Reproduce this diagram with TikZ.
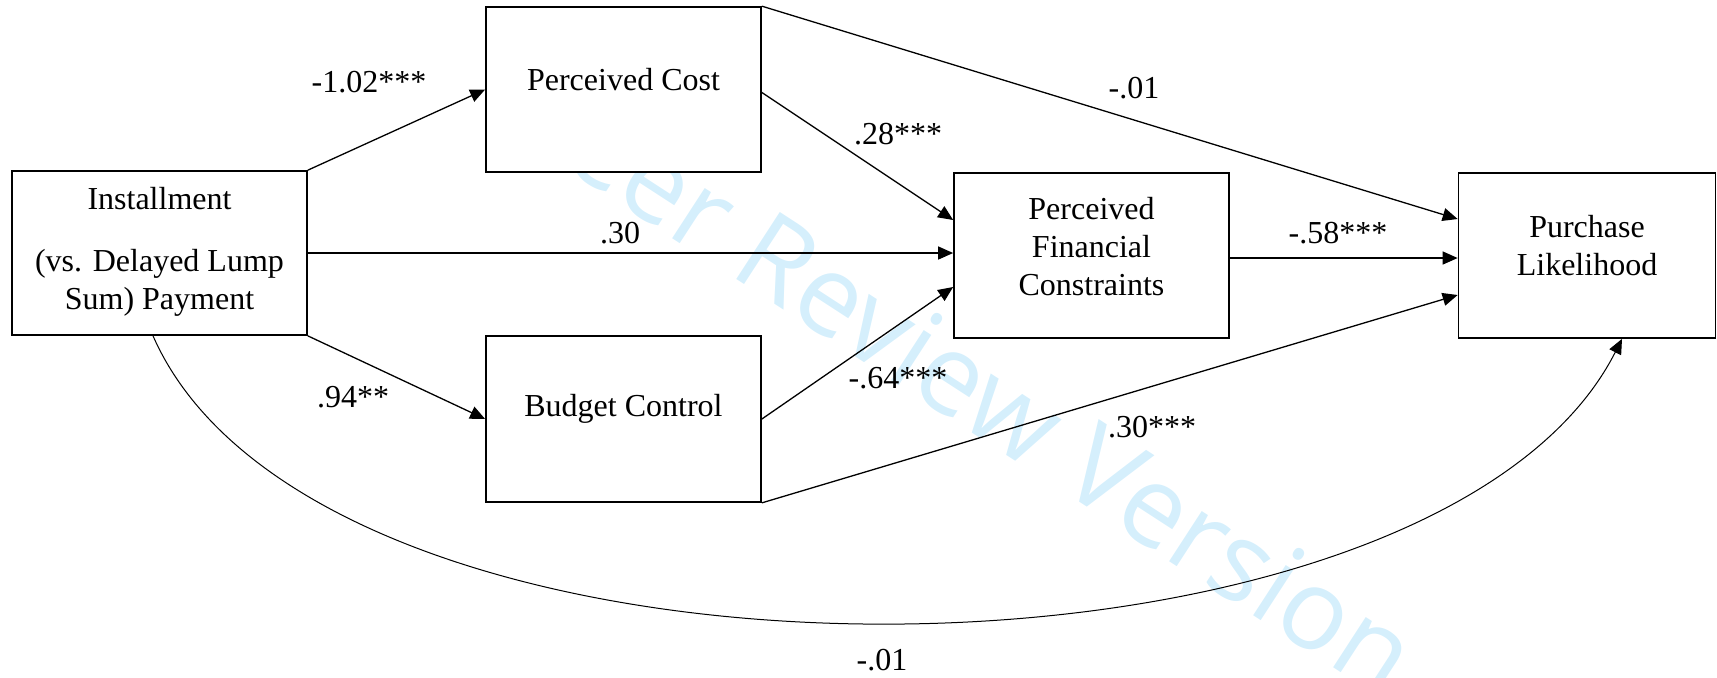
\documentclass[tikz,border=0pt]{standalone}
\usepackage{fontspec}
\setmainfont{Liberation Serif}
\newfontfamily\wmfont{Open Sans}
\usetikzlibrary{arrows.meta,calc}
\definecolor{wmcol}{RGB}{213,239,252}
\begin{document}
\begin{tikzpicture}[x=0.5pt,y=-0.5pt,
  box/.style={draw,line width=0.85pt,fill=white,inner sep=0pt},
  txt/.style={align=center,font=\fontsize{16}{19}\selectfont,inner sep=0pt},
  lbl/.style={font=\fontsize{16}{19}\selectfont,inner sep=0pt},
  arr/.style={line width=0.65pt,-{Triangle[length=7.5pt,width=6.5pt]}},
  curvearr/.style={line width=0.5pt,-{Triangle[length=7.5pt,width=6.5pt]}}]
\useasboundingbox (0,0) rectangle (1717,677);
% watermark
\node[rotate=-33,font=\fontsize{56}{56}\selectfont\wmfont,text=wmcol,inner sep=0pt] (wm) at (965,380) {Peer Review Version};
% boxes
\node[box,minimum width=147.5pt,minimum height=82pt] (inst) at (159.5,253) {};
\node[box,minimum width=137.5pt,minimum height=82.5pt] (pc) at (623.5,89.5) {};
\node[box,minimum width=137.5pt,minimum height=83pt] (bc) at (623.5,419) {};
\node[box,minimum width=137.5pt,minimum height=82.5pt] (pfc) at (1091.5,255.5) {};
\node[box,minimum width=128.5pt,minimum height=82.5pt] (pl) at (1587,255.5) {};
% texts
\node[txt] (instt) at ($(inst.center)+(0,-1)$) {Installment\\[12pt](vs. Delayed Lump\\Sum) Payment};
\node[txt] (pct) at ($(pc.center)+(0,-10)$) {Perceived Cost};
\node[txt] (bct) at ($(bc.center)+(0,-10)$) {Budget Control};
\node[txt] (pfct) at ($(pfc.center)+(0,-9)$) {Perceived\\Financial\\Constraints};
\node[txt] (plt) at ($(pl.center)+(0,-10)$) {Purchase\\Likelihood};
% connectors
\draw[arr] (inst.north east) -- (pc.west);
\draw[arr] (inst.east) -- (pfc.west |- inst.east);
\draw[arr] (inst.south east) -- (bc.west);
\draw[arr] ($(pc.east)+(0,3)$) -- ($(pfc.west)+(0,-35.5)$);
\draw[arr] (bc.east) -- ($(pfc.west)+(0,31.5)$);
\draw[arr] (pc.north east) -- ($(pl.west)+(0,-36.5)$);
\draw[arr] (bc.south east) -- ($(pl.west)+(0,39.5)$);
\draw[arr] ($(pfc.east)+(0,2.5)$) -- ($(pl.west)+(0,2.5)$);
\draw[curvearr] ($(inst.south)+(-6.5,0)$) .. controls (323,722) and (1432,713) .. ($(pl.south)+(35,0)$);
% labels
\node[lbl] (l1) at (369,82) {-1.02***};
\node[lbl] (l2) at (898,134) {.28***};
\node[lbl] (l3) at (1134,88) {-.01};
\node[lbl] (l4) at (620,233) {.30};
\node[lbl] (l5) at (1338,233) {-.58***};
\node[lbl] (l6) at (353,397) {.94**};
\node[lbl] (l7) at (898,378) {-.64***};
\node[lbl] (l8) at (1152,427) {.30***};
\node[lbl] (l9) at (882,660) {-.01};
\end{tikzpicture}
\end{document}
